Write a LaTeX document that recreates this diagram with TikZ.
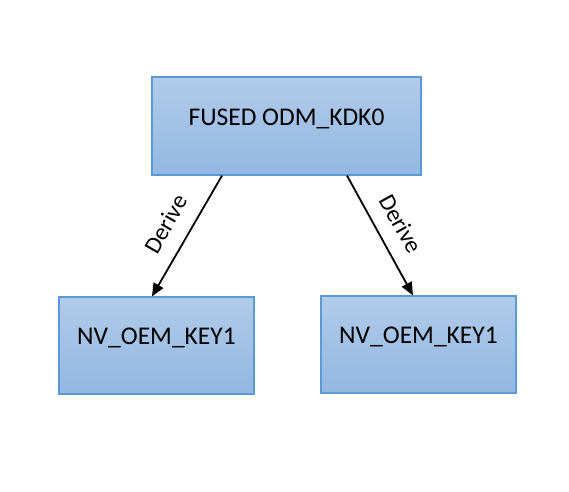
\documentclass[tikz,border=0pt]{standalone}
\usepackage{fontspec}
\setmainfont{Carlito}
\usetikzlibrary{arrows.meta}
\definecolor{boxtop}{RGB}{178,203,233}
\definecolor{boxbottom}{RGB}{146,183,226}
\definecolor{boxline}{RGB}{91,155,213}
\begin{document}
\begin{tikzpicture}[x=1pt, y=-1pt,
		keybox/.style={draw=boxline, line width=1.2pt, top color=boxtop, bottom color=boxbottom,
			font=\fontsize{25.5}{30}\selectfont, text height=17pt, text depth=19pt, inner sep=0pt},
		derivearrow/.style={line width=1.8pt, -{Triangle[length=13pt, width=11pt]}},
		derivelabel/.style={font=\fontsize{24}{28}\selectfont, sloped, midway, above=15pt, inner sep=0pt}]
		\useasboundingbox (0, 0) rectangle (569, 491);

		\node[keybox, minimum width=269pt, minimum height=98pt] (fused) at (286.5, 126) {FUSED ODM\_KDK0};
		\node[keybox, minimum width=195pt, minimum height=97pt] (keyA) at (156.5, 345.5) {NV\_OEM\_KEY1};
		\node[keybox, minimum width=195pt, minimum height=97pt] (keyB) at (418.5, 344.5) {NV\_OEM\_KEY1};

		\draw[derivearrow] ([xshift=-64.5pt]fused.south) -- ([xshift=-4.5pt]keyA.north)
		node[derivelabel] {Derive};
		\draw[derivearrow] ([xshift=60.5pt]fused.south) -- ([xshift=-5.5pt]keyB.north)
		node[derivelabel] {Derive};
	\end{tikzpicture}
\end{document}
